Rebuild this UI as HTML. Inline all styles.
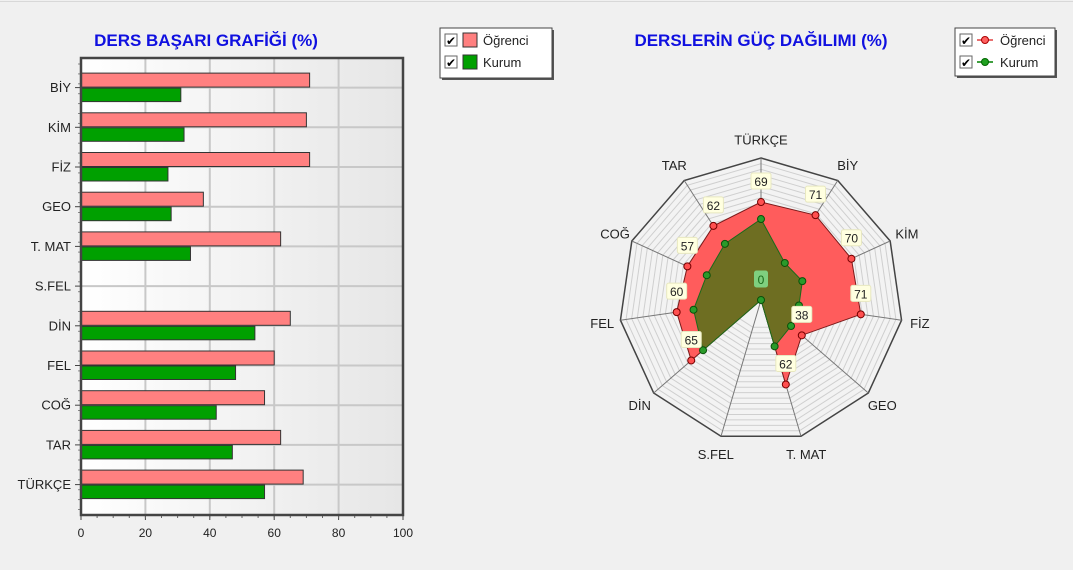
<!DOCTYPE html>
<html><head><meta charset="utf-8">
<style>
html,body{margin:0;padding:0;background:#f0f0f0;}
svg{display:block;font-family:"Liberation Sans",sans-serif;}
</style></head>
<body>
<svg id="c" width="1073" height="570" viewBox="0 0 1073 570">
<defs>
<linearGradient id="pg" x1="0" x2="1" y1="0" y2="0"><stop offset="0" stop-color="#ffffff"/><stop offset="1" stop-color="#e6e6e6"/></linearGradient>
</defs>
<rect x="0" y="0" width="1073" height="570" fill="#f0f0f0"/>
<line x1="0" y1="1.5" x2="1073" y2="1.5" stroke="#d8d8d8"/>
<text x="206" y="46" text-anchor="middle" font-size="17" font-weight="bold" fill="#1010e0">DERS BAŞARI GRAFİĞİ (%)</text>
<text x="761" y="46" text-anchor="middle" font-size="17" font-weight="bold" fill="#1010e0">DERSLERİN GÜÇ DAĞILIMI (%)</text>
<g id="bar"></g>
<g id="radar"></g>
<g>
<rect x="442" y="30" width="112" height="50" fill="#555"/>
<rect x="440" y="28" width="112" height="50" fill="#fff" stroke="#444"/>
<g>
<rect x="445" y="34" width="12" height="12" fill="#fff" stroke="#666"/><text x="446" y="45" font-size="12">✔</text>
<rect x="463" y="33" width="14" height="14" fill="#ff8080" stroke="#333"/>
<text x="483" y="45" font-size="13" fill="#222">Öğrenci</text></g>
<g>
<rect x="445" y="56" width="12" height="12" fill="#fff" stroke="#666"/><text x="446" y="67" font-size="12">✔</text>
<rect x="463" y="55" width="14" height="14" fill="#00a000" stroke="#333"/>
<text x="483" y="67" font-size="13" fill="#222">Kurum</text></g>
</g>
<g>
<rect x="957" y="30" width="100" height="48" fill="#555"/>
<rect x="955" y="28" width="100" height="48" fill="#fff" stroke="#444"/>
<g>
<rect x="960" y="34" width="12" height="12" fill="#fff" stroke="#666"/><text x="961" y="45" font-size="12">✔</text>
<line x1="977" y1="40" x2="993" y2="40" stroke="#e04040" stroke-width="1.5"/><circle cx="985" cy="40" r="3.5" fill="#ff6060" stroke="#a00"/>
<text x="1000" y="45" font-size="13" fill="#222">Öğrenci</text></g>
<g>
<rect x="960" y="56" width="12" height="12" fill="#fff" stroke="#666"/><text x="961" y="67" font-size="12">✔</text>
<line x1="977" y1="62" x2="993" y2="62" stroke="#008000" stroke-width="1.5"/><circle cx="985" cy="62" r="3.5" fill="#20a020" stroke="#060"/>
<text x="1000" y="67" font-size="13" fill="#222">Kurum</text></g>
</g>
</svg>
<script>
const barCategories = ["BİY","KİM","FİZ","GEO","T. MAT","S.FEL","DİN","FEL","COĞ","TAR","TÜRKÇE"];
const ogrenciValues = [71,70,71,38,62,0,65,60,57,62,69];
const kurumValues = [31,32,27,28,34,0,54,48,42,47,57];
const xTicks = [0,20,40,60,80,100];
const radarCategories = ["TÜRKÇE","BİY","KİM","FİZ","GEO","T. MAT","S.FEL","DİN","FEL","COĞ","TAR"];
const radarOgrenci = [69,71,70,71,38,62,0,65,60,57,62];
const radarKurum = [57,31,32,27,28,34,0,54,48,42,47];

const NS="http://www.w3.org/2000/svg";
function mk(parent,tag,attrs,text){const e=document.createElementNS(NS,tag);for(const k in attrs)e.setAttribute(k,attrs[k]);if(text!==undefined)e.textContent=text;parent.appendChild(e);return e;}

// Bar chart
const bar=document.getElementById('bar');
const PL=81,PR=403,PT=58,PB=515;
const xs=v=>PL+(v/100)*(PR-PL);
const yc=i=>87.6+i*39.7;
const plotBg=mk(bar,'rect',{x:PL,y:PT,width:PR-PL,height:PB-PT,fill:'url(#pg)'});


xTicks.forEach(t=>{
  if(t>0&&t<100){const g=mk(bar,'line',{x1:xs(t),x2:xs(t),y1:PT,y2:PB,stroke:'#c8c8c8','stroke-width':2});
  
  }
  const tl=mk(bar,'text',{x:xs(t),y:537,'text-anchor':'middle','font-size':12,fill:'#222'},String(t));
  
  
  mk(bar,'line',{x1:xs(t),x2:xs(t),y1:PB,y2:PB+5,stroke:'#444'});
});
for(let v=5;v<100;v+=5){mk(bar,'line',{x1:xs(v),x2:xs(v),y1:PB,y2:PB+3,stroke:'#666'});}
for(let y=PT+6;y<PB;y+=9.9){mk(bar,'line',{x1:PL-3,x2:PL,y1:y,y2:y,stroke:'#888'});}
barCategories.forEach((c,i)=>{
  const gl=mk(bar,'line',{x1:PL,x2:PR,y1:yc(i),y2:yc(i),stroke:'#c8c8c8','stroke-width':2});
  
  
  const lb=mk(bar,'text',{x:71,y:yc(i)+4.5,'text-anchor':'end','font-size':13,fill:'#222'},c);
  
  
  mk(bar,'line',{x1:PL-6,x2:PL,y1:yc(i),y2:yc(i),stroke:'#444'});
  if(ogrenciValues[i]>0){
    const b=mk(bar,'rect',{x:PL,y:yc(i)-14.5,width:xs(ogrenciValues[i])-PL,height:14,fill:'#ff8080',stroke:'#333','stroke-width':1});
    
    
  }
  if(kurumValues[i]>0){
    const b=mk(bar,'rect',{x:PL,y:yc(i)+0.5,width:xs(kurumValues[i])-PL,height:13.5,fill:'#00a000',stroke:'#333','stroke-width':1});
    
    
  }
});
mk(bar,'rect',{x:PL,y:PT,width:PR-PL,height:PB-PT,fill:'none',stroke:'#444','stroke-width':2.5});

// Radar chart
const rad=document.getElementById('radar');
const CX=761,CY=300,R=142,N=radarCategories.length;
const ang=i=>i*2*Math.PI/N;
const pt=(i,v)=>[CX+R*(v/100)*Math.sin(ang(i)),CY-R*(v/100)*Math.cos(ang(i))];
const poly=(vals)=>vals.map((v,i)=>pt(i,v).join(',')).join(' ');
const outer=mk(rad,'polygon',{points:poly(radarCategories.map(()=>100)),fill:'#f3f3f3',stroke:'#444','stroke-width':1.5});


for(let v=20;v<100;v+=4){mk(rad,'polygon',{points:poly(radarCategories.map(()=>v)),fill:'none',stroke:'#cfcfcf','stroke-width':1});}
radarCategories.forEach((c,i)=>{
  const [x,y]=pt(i,100);
  mk(rad,'line',{x1:CX,y1:CY,x2:x,y2:y,stroke:'#777','stroke-width':1});
  const [lx,ly]=pt(i,113);
  const t=mk(rad,'text',{x:lx,y:ly+5,'text-anchor':'middle','font-size':13,fill:'#222'},c);
  
  
});
const po=mk(rad,'polygon',{points:poly(radarOgrenci),fill:'#ff5c5c',stroke:'#7a1a1a','stroke-width':1});


const pk=mk(rad,'polygon',{points:poly(radarKurum),fill:'#6e6e22',stroke:'#1a6a1a','stroke-width':1});


radarKurum.forEach((v,i)=>{const [x,y]=pt(i,v);
  const d=mk(rad,'circle',{cx:x,cy:y,r:3.5,fill:'#2a9a2a',stroke:'#0a500a'});
  
  });
radarOgrenci.forEach((v,i)=>{const [x,y]=pt(i,v);
  if(v>0){const d=mk(rad,'circle',{cx:x,cy:y,r:3.5,fill:'#ff5050',stroke:'#700'});
  
  }
  const s=String(v),w=s.length*7+6;
  const bg=mk(rad,'rect',{x:x-w/2,y:y-29,width:w,height:16,rx:2,fill:v>0?'#ffffe0':'#7fd07f',stroke:v>0?'#e8e8c0':'#7fd07f'});
  
  
  const t=mk(rad,'text',{x:x,y:y-16,'text-anchor':'middle','font-size':12,fill:v>0?'#222':'#1a6a1a'},s);
  
  
});
</script>
</body></html>
